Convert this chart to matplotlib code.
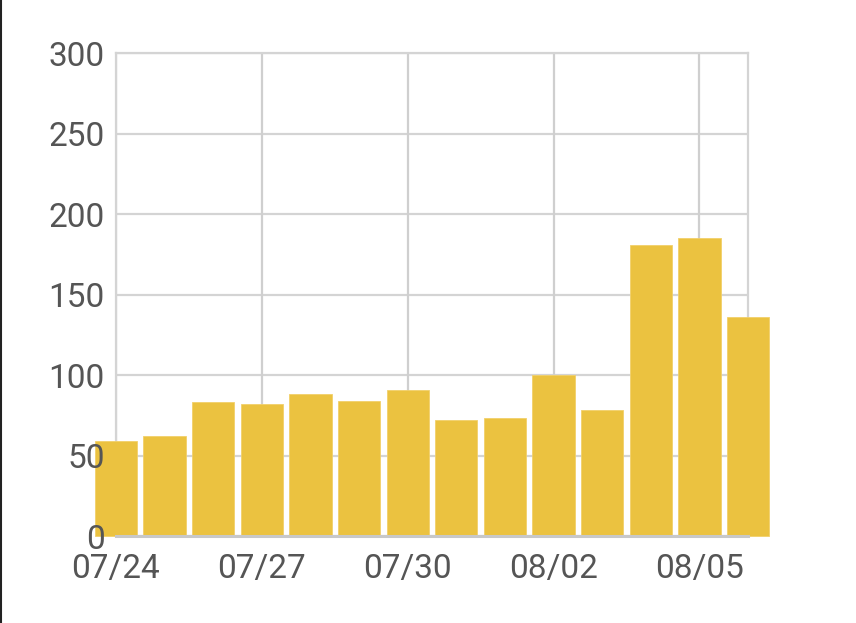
import matplotlib.pyplot as plt
from matplotlib.lines import Line2D

# daily counts, 07/24 .. 08/06
dates = ['07/24', '07/25', '07/26', '07/27', '07/28', '07/29', '07/30',
         '07/31', '08/01', '08/02', '08/03', '08/04', '08/05', '08/06']
values = [59, 62, 83, 82, 88, 84, 91, 72, 73, 100, 78, 181, 185, 136]
shown_ticks = ['07/24', '07/27', '07/30', '08/02', '08/05']
y_ticks = [0, 50, 100, 150, 200, 250, 300]

plt.rcParams['font.family'] = ['Roboto', 'DejaVu Sans']

fig = plt.figure(figsize=(8.56, 6.23), dpi=100)
ax = fig.add_axes([0.1355, 0.1396, 0.7383, 0.7753])

x = list(range(len(dates)))
tick_pos = [dates.index(d) for d in shown_ticks]

# grid by hand so the tick labels can sit above the bars
for yv in y_ticks:
    ax.axhline(yv, color='#d4d4d4', linewidth=1.6, zorder=0.5)
for xv in tick_pos:
    ax.axvline(xv, color='#cfcfcf', linewidth=1.6, zorder=0.5)

bars = ax.bar(x, values, width=0.87, color='#ebc240', edgecolor='#f2d06a',
              linewidth=0.6, zorder=3)
for b in bars:
    b.set_clip_on(False)

ax.set_xlim(0, len(dates) - 1)
ax.set_ylim(0, 300)
ax.set_yticks(y_ticks)
ax.set_xticks(tick_pos)
ax.set_xticklabels(shown_ticks)

for s in ['left', 'right', 'top']:
    ax.spines[s].set_color('#d4d4d4')
    ax.spines[s].set_linewidth(1.6)
    ax.spines[s].set_zorder(1)
ax.spines['bottom'].set_color('#c8c8c8')
ax.spines['bottom'].set_linewidth(2.2)
ax.spines['bottom'].set_zorder(4)

ax.tick_params(axis='both', length=0, labelsize=24, labelcolor='#555555')
ax.tick_params(axis='y', pad=8)
ax.tick_params(axis='x', pad=12)
ax.yaxis.set_zorder(5)
ax.xaxis.set_zorder(5)

# dark edge on the left of the picture
fig.add_artist(Line2D([0.001, 0.001], [0, 1], color='#222222', linewidth=1.5,
                      transform=fig.transFigure))

fig.savefig('out.png', dpi=100, facecolor='white')
